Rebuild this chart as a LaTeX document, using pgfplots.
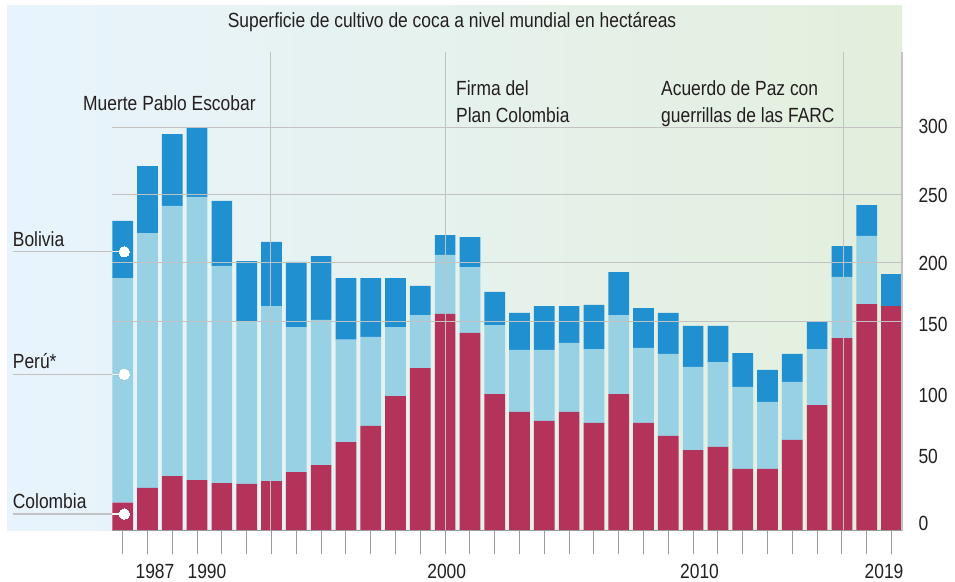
\documentclass[border=0pt]{standalone}
\usepackage{pgfplots}
\usepackage{pgfplotstable}
\pgfplotsset{compat=1.18}
\usepackage{fontspec}
\setmainfont{Liberation Sans}[FakeStretch=0.85]
\definecolor{colred}{HTML}{B3335B}
\definecolor{perblue}{HTML}{98D1E4}
\definecolor{bolblue}{HTML}{2190D0}
\definecolor{bgL}{HTML}{E8F4FD}
\definecolor{bgR}{HTML}{E3EFDC}
\definecolor{gridc}{HTML}{C2C2C2}
\definecolor{tickc}{HTML}{9A9A9A}
\definecolor{txt}{HTML}{231F20}

% i = bar index (0 = first bar), C = Colombia, P = Peru, B = Bolivia
\pgfplotstableread{
i C P B
0 21.1 169.3 43.0
1 32.2 192.1 50.5
2 41.2 203.5 54.2
3 38.2 213.3 52.7
4 35.9 163.6 49.0
5 35.2 122.1 45.9
6 37.4 131.9 48.3
7 44.2 109.3 49.0
8 49.5 109.3 48.2
9 66.8 77.1 46.5
10 78.9 67.1 44.4
11 101.5 52.0 36.9
12 122.6 39.9 21.9
13 163.3 44.5 15.0
14 149.0 49.7 22.6
15 103.0 52.0 24.9
16 89.5 46.7 27.9
17 82.7 53.5 33.1
18 89.5 52.0 27.8
19 81.2 55.7 33.2
20 103.0 59.5 32.4
21 81.2 56.5 30.1
22 71.4 61.8 30.9
23 60.8 62.6 30.9
24 63.1 64.0 27.2
25 46.5 61.8 25.6
26 46.5 50.5 24.1
27 68.4 43.7 21.1
28 94.7 42.2 20.4
29 145.2 46.0 23.3
30 170.8 51.3 23.3
31 169.3 0.0 24.1
}\datatable

\pgfplotsset{common/.style={
  at={(7pt,50.3pt)}, anchor=south west,
  scale only axis, width=895pt, height=524.7pt,
  xmin=-4.665, xmax=31.423, ymin=0, ymax=395.4, clip=false}}

\begin{document}
\begin{tikzpicture}[x=1pt,y=1pt,font=\fontsize{20.5}{24}\selectfont]
\useasboundingbox (0,0) rectangle (955,581);
\begin{axis}[
  common,
  axis background/.style={left color=bgL, right color=bgR},
  axis line style={draw=none},
  ybar stacked, bar width=20.7pt,
  xtick={0,...,31}, xticklabels={}, xtick pos=left,
  major tick length=23.3pt, tick align=outside,
  x tick style={tickc, line width=1pt},
  ytick={5.6,56.3,102.3,155.8,201.7,252.4,304.5},
  yticklabels={0,50,100,150,200,250,300},
  ytick pos=right, yticklabel pos=right,
  y tick style={draw=none},
  yticklabel style={anchor=west, inner sep=0pt, xshift=-7pt, text=txt},
  tick label style={font=\fontsize{20.5}{24}\selectfont},
]
\draw[gridc, line width=1.2pt] (axis cs:-0.431,304.0) -- (axis cs:31.423,304.0);
\draw[gridc, line width=1.2pt] (axis cs:-0.431,253.2) -- (axis cs:31.423,253.2);
\draw[gridc, line width=1.2pt] (axis cs:-0.431,202.3) -- (axis cs:31.423,202.3);
\draw[gridc, line width=1.2pt] (axis cs:-0.431,157.6) -- (axis cs:31.423,157.6);
\draw[gridc, line width=1.2pt] (axis cs:5.95,0) -- (axis cs:5.95,361);
\draw[gridc, line width=1.2pt] (axis cs:13,0) -- (axis cs:13,361);
\draw[gridc, line width=1.2pt] (axis cs:29.05,0) -- (axis cs:29.05,361);
\draw[gridc, line width=1.2pt] (axis cs:31.423,0) -- (axis cs:31.423,361);
\addplot[fill=colred, draw=none] table[x=i,y=C]{\datatable};
\addplot[fill=perblue, draw=none] table[x=i,y=P]{\datatable};
\addplot[fill=bolblue, draw=none] table[x=i,y=B]{\datatable};
\end{axis}
\begin{axis}[common, hide axis]
\addplot[tickc, line width=1pt] coordinates {(-0.431,0) (31.423,0)};
\addplot[gridc, line width=1.2pt] coordinates {(-4.435,210.2) (-0.431,210.2)};
\addplot[white!80!gridc, line width=1.2pt] coordinates {(-0.431,210.2) (0.065,210.2)};
\addplot[gridc, line width=1.2pt] coordinates {(-4.435,117.9) (-0.431,117.9)};
\addplot[white!80!gridc, line width=1.2pt] coordinates {(-0.431,117.9) (0.065,117.9)};
\addplot[gridc, line width=1.2pt] coordinates {(-4.435,12.6) (-0.431,12.6)};
\addplot[white!80!gridc, line width=1.2pt] coordinates {(-0.431,12.6) (0.065,12.6)};
\addplot[white, only marks, mark=*, mark size=5.2pt,
  mark options={draw=white, fill=white, line width=0pt}]
  coordinates {(0.065,210.2) (0.065,117.9) (0.065,12.6)};
\end{axis}
\begin{scope}[every node/.style={inner sep=0pt, text=txt}]
\node[anchor=base] at (452,553) {Superficie de cultivo de coca a nivel mundial en hectáreas};
\node[anchor=base west] at (83,470) {Muerte Pablo Escobar};
\node[anchor=base west] at (456,485) {Firma del};
\node[anchor=base west] at (456,458) {Plan Colombia};
\node[anchor=base west] at (661,485) {Acuerdo de Paz con};
\node[anchor=base west] at (661,458) {guerrillas de las FARC};
\node[anchor=base west] at (12.7,334.3) {Bolivia};
\node[anchor=base west] at (12.7,212) {Perú*};
\node[anchor=base west] at (12.7,72.7) {Colombia};
\node[anchor=base] at (155,3) {1987};
\node[anchor=base] at (207,3) {1990};
\node[anchor=base] at (446.7,3) {2000};
\node[anchor=base] at (699.5,3) {2010};
\node[anchor=base] at (884,3) {2019};
\end{scope}
\end{tikzpicture}
\end{document}
